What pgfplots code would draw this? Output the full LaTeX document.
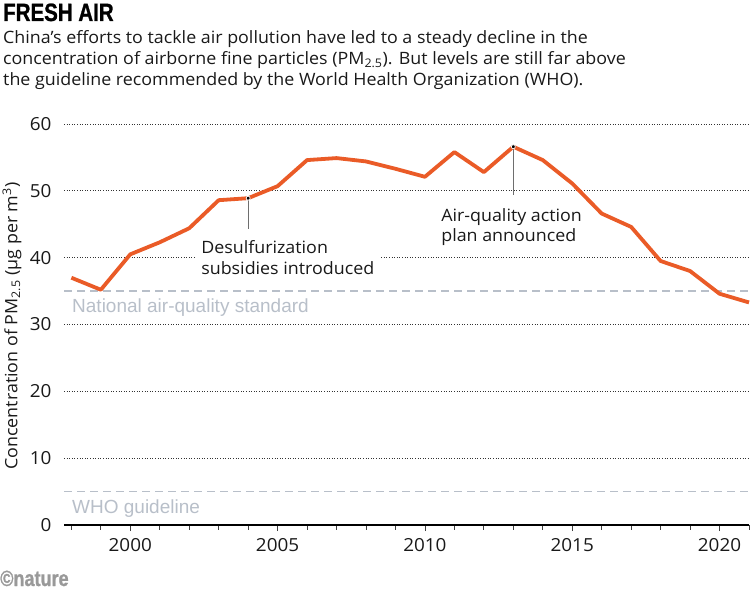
\documentclass[border=0pt]{standalone}
\usepackage{pgfplots}
\pgfplotsset{compat=1.18}
\usepackage{fontspec}
\setmainfont[FakeStretch=1.05]{Open Sans}
\newfontfamily\titlefont[FakeStretch=0.82,FakeBold=1]{Liberation Sans}
\newfontfamily\reffont{Liberation Sans}

\definecolor{natorange}{RGB}{234,91,39}
\definecolor{refgray}{RGB}{184,191,201}
\definecolor{leadgray}{RGB}{110,110,110}

\begin{document}
\begin{tikzpicture}
\begin{axis}[
  at={(0,0)}, anchor=south west,
  scale only axis, width=685pt, height=401pt,
  xmin=1997.75, xmax=2021, ymin=0, ymax=60,
  axis x line*=bottom, axis y line*=left,
  x axis line style={-, black, line width=2.8pt},
  y axis line style={draw=none},
  xtick={2000,2005,...,2020},
  minor xtick={1998,...,2021},
  ytick={0,10,...,60},
  tick align=outside,
  major tick length=6pt, minor tick length=4.5pt,
  xtick style={black!75, line width=0.7pt},
  ytick style={draw=none},
  ymajorgrids,
  major grid style={draw=black!80, line width=1pt, dash pattern=on 1pt off 1.6pt},
  /pgf/number format/assume math mode=true,
  /pgf/number format/1000 sep={},
  tick label style={font=\fontsize{18}{19}\selectfont, text=black!90},
  xticklabel style={anchor=base, yshift=-20pt},
  yticklabel style={xshift=-3pt},
  clip=false,
]
% reference levels
\addplot[refgray, line width=1.2pt, dash pattern=on 8pt off 5pt] coordinates {(1997.75,35) (2021,35)};
\addplot[refgray, line width=1.2pt, dash pattern=on 8pt off 5pt] coordinates {(1997.75,5) (2021,5)};

% PM2.5 series
\addplot[natorange, line width=3.8pt, line join=round] coordinates {
  (1998,37.0) (1999,35.2) (2000,40.5) (2001,42.3) (2002,44.4)
  (2003,48.6) (2004,48.9) (2005,50.7) (2006,54.6) (2007,54.9)
  (2008,54.4) (2009,53.3) (2010,52.1) (2011,55.8) (2012,52.8)
  (2013,56.6) (2014,54.6) (2015,51.1) (2016,46.6) (2017,44.6)
  (2018,39.5) (2019,38.0) (2020,34.6) (2021,33.3)
};

% leader lines and markers
\addplot[leadgray, line width=0.8pt] coordinates {(2004,48.9) (2004,44.3)};
\addplot[leadgray, line width=0.8pt] coordinates {(2013,56.6) (2013,49.4)};
\addplot[only marks, mark=*, mark size=2pt, black,
  mark options={draw=white, line width=0.7pt}] coordinates {(2004,48.9) (2013,56.6)};

\node[anchor=north west, align=left, fill=white, inner xsep=6pt, inner ysep=0pt,
  font=\fontsize{17}{20.3}\selectfont, text=black!90]
  at (axis cs:2002.2,42.54) {Desulfurization\\subsidies introduced};
\node[anchor=north west, align=left, inner xsep=0pt, inner ysep=0pt,
  font=\fontsize{17}{20.3}\selectfont, text=black!90]
  at (axis cs:2010.55,47.43) {Air-quality action\\plan announced};
\end{axis}

% reference labels
\node[anchor=base west, inner sep=0pt, text=refgray, font=\reffont\fontsize{19}{20}\selectfont]
  at (8pt,212.7pt) {National air-quality standard};
\node[anchor=base west, inner sep=0pt, text=refgray, font=\reffont\fontsize{19}{20}\selectfont]
  at (8pt,12pt) {WHO guideline};

% y label
\node[rotate=90, inner sep=0pt, font=\fontsize{17}{18}\selectfont, text=black!90]
  at (-52pt,199pt) {Concentration of PM\textsubscript{2.5} (µg per m\textsuperscript{3})};

% title and subtitle
\node[anchor=base west, inner sep=0pt, font=\titlefont\bfseries\fontsize{25}{26}\selectfont]
  at (-61pt,504pt) {FRESH AIR};
\node[anchor=base west, inner sep=0pt, font=\fontsize{17}{20}\selectfont, text=black!90]
  at (-61pt,481pt) {China’s efforts to tackle air pollution have led to a steady decline in the};
\node[anchor=base west, inner sep=0pt, font=\fontsize{17}{20}\selectfont, text=black!90]
  at (-61pt,460pt) {concentration of airborne fine particles (PM\textsubscript{2.5}). But levels are still far above};
\node[anchor=base west, inner sep=0pt, font=\fontsize{17}{20}\selectfont, text=black!90]
  at (-61pt,439pt) {the guideline recommended by the World Health Organization (WHO).};

% credit
\node[anchor=base west, inner sep=0pt, text=black!40, font=\titlefont\bfseries\fontsize{22}{23}\selectfont]
  at (-64pt,-61pt) {©nature};

\pgfresetboundingbox
\path[use as bounding box] (-64pt,-71pt) rectangle (687pt,525pt);
\end{tikzpicture}
\end{document}
